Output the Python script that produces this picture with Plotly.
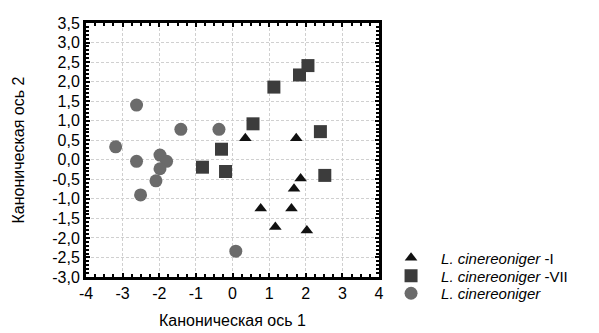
import plotly.graph_objects as go

# Data
tri_x = [0.35, 1.74, 1.86, 1.68, 0.77, 1.61, 1.17, 2.03]
tri_y = [0.55, 0.55, -0.48, -0.74, -1.25, -1.25, -1.72, -1.81]

sq_x = [2.06, 1.83, 1.13, 0.56, 2.40, -0.30, -0.82, -0.19, 2.52]
sq_y = [2.41, 2.17, 1.86, 0.92, 0.72, 0.27, -0.19, -0.30, -0.40]

circ_x = [-2.62, -1.41, -0.37, -3.19, -2.62, -1.98, -1.80, -1.98, -2.09, -2.51, 0.09]
circ_y = [1.40, 0.78, 0.78, 0.33, -0.04, 0.12, -0.04, -0.23, -0.54, -0.90, -2.34]

series_names = ["<i>L. cinereoniger</i> -I", "<i>L. cinereoniger</i> -VII", "<i>L. cinereoniger</i>"]

x_tickvals = [-4, -3, -2, -1, 0, 1, 2, 3, 4]
x_ticktext = ["-4", "-3", "-2", "-1", "0", "1", "2", "3", "4"]
y_tickvals = [3.5, 3.0, 2.5, 2.0, 1.5, 1.0, 0.5, 0.0, -0.5, -1.0, -1.5, -2.0, -2.5, -3.0]
y_ticktext = ["3,5", "3,0", "2,5", "2,0", "1,5", "1,0", "0,5", "0,0", "-0,5", "-1,0",
              "-1,5", "-2,0", "-2,5", "-3,0"]

FONT = "Liberation Sans, Arial"

fig = go.Figure()
fig.add_trace(go.Scatter(x=tri_x, y=tri_y, mode="markers", name=series_names[0], legend="legend",
                         marker=dict(symbol="triangle-up", size=11, color="#111111")))
fig.add_trace(go.Scatter(x=sq_x, y=sq_y, mode="markers", name=series_names[1], legend="legend2",
                         marker=dict(symbol="square", size=13, color="#3c3c3c")))
fig.add_trace(go.Scatter(x=circ_x, y=circ_y, mode="markers", name=series_names[2], legend="legend3",
                         marker=dict(symbol="circle", size=13, color="#6b6b6b")))

axis_common = dict(
    showline=True, linewidth=3, linecolor="black", mirror="allticks",
    showgrid=True, gridcolor="#d0d0d0", griddash="3px,2px", gridwidth=1,
    zeroline=False, ticks="inside", ticklen=4, tickwidth=2, tickcolor="black",
    tickfont=dict(family=FONT, size=16, color="black"),
)

fig.update_xaxes(
    range=[-4, 4], tickvals=x_tickvals, ticktext=x_ticktext,
    minor=dict(dtick=0.25, ticks="inside", ticklen=3, tickwidth=2, tickcolor="black", showgrid=False),
    title=dict(text="Каноническая ось 1", standoff=14,
               font=dict(family=FONT, size=16, color="black")),
    **axis_common,
)
fig.update_yaxes(
    range=[-3.0, 3.5], tickvals=y_tickvals, ticktext=y_ticktext,
    minor=dict(dtick=0.1, ticks="inside", ticklen=3, tickwidth=2, tickcolor="black", showgrid=False),
    title=dict(text="Каноническая ось 2", standoff=24,
               font=dict(family=FONT, size=16, color="black")),
    **axis_common,
)

leg_common = dict(xanchor="left", yanchor="middle", x=1.007, itemwidth=50,
                  font=dict(family=FONT, size=15, color="black"),
                  bgcolor="rgba(0,0,0,0)", borderwidth=0)

fig.update_layout(
    width=591, height=325,
    margin=dict(l=78, r=220, t=15, b=56, autoexpand=False),
    paper_bgcolor="white", plot_bgcolor="white",
    showlegend=True,
    legend=dict(y=0.075, **leg_common),
    legend2=dict(y=0.004, **leg_common),
    legend3=dict(y=-0.065, **leg_common),
)

fig.write_html("out.html")
